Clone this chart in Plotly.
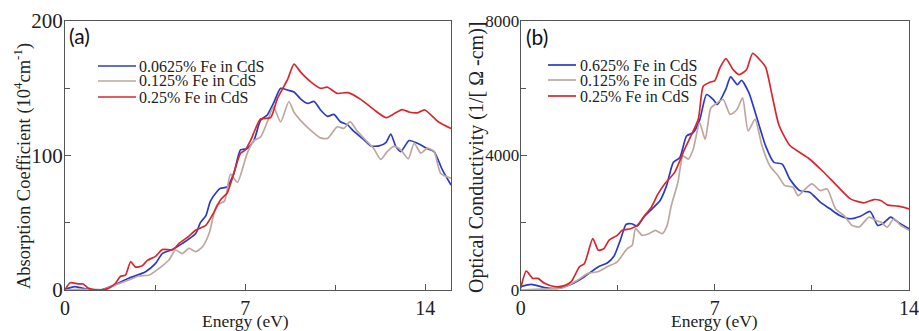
import plotly.graph_objects as go

W, H = 919, 331

# ---------------- data : panel (a) absorption coefficient ----------------
names_a = ["0.0625% Fe in CdS", "0.125% Fe in CdS", "0.25% Fe in CdS"]

a_blue_x = [0.0, 0.38, 0.9, 1.4, 1.83, 2.48, 3.13, 3.52, 3.78, 4.17, 4.56, 5.08, 5.26, 5.47, 5.65, 5.9, 6.04, 6.3,
            6.56, 6.82, 7.08, 7.34, 7.6, 7.86, 8.1, 8.38, 8.64, 8.9, 9.15, 9.42, 9.68, 9.93, 10.2, 10.45, 10.7,
            10.97, 11.23, 11.62, 11.88, 12.2, 12.47, 12.66, 12.86, 13.05, 13.37, 13.7, 14.08, 14.34, 14.67, 15.0]
a_blue_y = [0.5, 2.5, 0.5, 0, 3, 8.7, 13.6, 19.8, 27, 30, 34.6, 42, 50, 55, 66, 73, 75.5, 76.5,
            86.6, 104, 105, 111, 126, 130, 138.6, 149.8, 148.5, 147, 142, 138.6, 140, 133.7, 129, 130.4, 125,
            122.8, 117.8, 111.5, 107, 107, 109.5, 115.8, 106.5, 102.8, 111, 109, 105, 102.8, 89, 78]

a_gray_x = [0.0, 0.5, 1.0, 1.5, 1.96, 2.48, 2.87, 3.26, 3.65, 4.04, 4.3, 4.56, 4.82, 5.08, 5.34, 5.6, 5.9, 6.2,
            6.43, 6.7, 7.08, 7.34, 7.6, 7.86, 8.1, 8.38, 8.7, 8.9, 9.15, 9.55, 9.93, 10.2, 10.58, 10.84, 11.08,
            11.36, 11.75, 12.0, 12.27, 12.53, 12.79, 13.05, 13.34, 13.57, 13.83, 14.08, 14.34, 14.6, 15.0]
a_gray_y = [0, 0.5, 0.5, 0.5, 3.7, 7.4, 10.4, 11, 16, 22.3, 29.7, 27, 31, 28.5, 32, 42, 63, 66,
            86, 80, 101.5, 111, 113.6, 124.8, 136, 124.8, 140, 132, 126, 118.6, 113, 112.6, 121.2, 120, 125,
            117.8, 110, 105, 97, 103, 106.6, 104, 97.5, 109, 101.6, 105.4, 103, 86.6, 83]

a_red_x = [0.0, 0.2, 0.5, 0.7, 0.92, 1.3, 1.69, 1.96, 2.15, 2.35, 2.55, 2.74, 3.0, 3.2, 3.52, 3.78, 4.2, 4.43,
           4.82, 5.08, 5.47, 5.73, 6.04, 6.3, 6.56, 6.82, 7.0, 7.21, 7.6, 7.99, 8.25, 8.64, 8.9, 9.15, 9.55,
           9.93, 10.2, 10.58, 11.0, 11.49, 12.0, 12.47, 12.8, 13.1, 13.4, 13.7, 13.98, 14.5, 15.0]
a_red_y = [0, 5.4, 4.5, 4.5, 1.2, 0, 1.2, 5, 10, 11, 21, 17, 18, 22, 25, 30, 30, 34.6,
           40, 44.5, 48, 55.7, 66.8, 72, 86.6, 101.5, 104, 111, 127, 128, 142, 156, 167.8, 162, 154.6,
           149.8, 150.6, 146, 146.6, 141.6, 134, 128, 131, 134, 132, 131.6, 133.7, 125, 120]

# ---------------- data : panel (b) optical conductivity ----------------
names_b = ["0.625% Fe in CdS", "0.125% Fe in CdS", "0.25% Fe in CdS"]

b_blue_x = [0.0, 0.38, 0.86, 1.34, 1.82, 2.3, 2.8, 3.12, 3.36, 3.6, 3.8, 4.0, 4.2, 4.44, 4.68, 4.92, 5.02, 5.26,
            5.5, 5.74, 5.98, 6.22, 6.46, 6.7, 6.94, 7.09, 7.39, 7.57, 7.81, 7.96, 8.23, 8.53, 8.83, 9.13, 9.43,
            9.7, 10.06, 10.42, 10.8, 11.15, 11.5, 11.89, 12.25, 12.6, 12.87, 13.05, 13.34, 13.6, 14.0]
b_blue_y = [100, 170, 70, 50, 170, 395, 690, 800, 1000, 1500, 1950, 1968, 1900, 2165, 2362, 2558, 2650, 3100,
            3790, 3938, 4577, 4675, 5069, 5807, 5660, 5511, 5955, 6329, 6100, 6230, 5857, 5069, 4282, 3790, 3740,
            3297, 2952, 2904, 2609, 2412, 2214, 2116, 2190, 2333, 1920, 1968, 2166, 2017, 1821]

b_gray_x = [0.0, 0.5, 1.0, 1.5, 2.06, 2.42, 2.78, 3.12, 3.48, 3.84, 4.02, 4.14, 4.38, 4.62, 4.86, 5.1, 5.28, 5.43,
            5.67, 5.85, 6.04, 6.22, 6.45, 6.65, 6.85, 7.0, 7.3, 7.55, 7.8, 8.0, 8.2, 8.45, 8.7, 8.98, 9.28, 9.52,
            9.82, 10.0, 10.2, 10.5, 10.8, 11.05, 11.35, 11.65, 11.95, 12.2, 12.56, 12.8, 12.98, 13.22, 13.46,
            13.7, 14.0]
b_gray_y = [0, 20, 30, 60, 296, 493, 542, 690, 838, 1230, 1328, 1821, 1624, 1673, 1772, 1673, 1920, 2510,
            3200, 3985, 3887, 4183, 4970, 4478, 5400, 5511, 5659, 5216, 5364, 5709, 4724, 5069, 4282, 3690, 3395, 3100,
            3052, 2805, 2952, 3150, 2952, 3002, 2412, 2214, 1920, 1870, 2166, 2067, 2017, 1870, 2116,
            1920, 1771]

b_red_x = [0.0, 0.2, 0.44, 0.62, 0.86, 1.22, 1.58, 1.82, 2.12, 2.3, 2.6, 2.8, 3.0, 3.18, 3.48, 3.66, 3.96, 4.2,
           4.47, 4.71, 4.95, 5.19, 5.55, 5.91, 6.4, 6.58, 6.82, 7.0, 7.18, 7.4, 7.66, 7.88, 8.14, 8.36, 8.62,
           8.83, 9.07, 9.31, 9.7, 10.06, 10.4, 10.9, 11.4, 11.89, 12.37, 12.73, 12.98, 13.22, 13.6, 14.0]
b_red_y = [50, 561, 345, 345, 198, 100, 130, 248, 690, 790, 1526, 1181, 1230, 1476, 1624, 1772, 1820, 1920,
           2214, 2460, 2854, 3150, 3495, 4183, 5069, 6052, 6170, 6220, 6595, 6875, 6545, 6397, 6545, 7027, 6840,
           6620, 5757, 4900, 4300, 4085, 3900, 3520, 3100, 2707, 2589, 2687, 2657, 2530, 2490, 2412]

colors = ["#2b3cc4", "#bda79f", "#d9272e"]

fig = go.Figure()
for nm, xs, ys, c in zip(names_a, [a_blue_x, a_gray_x, a_red_x], [a_blue_y, a_gray_y, a_red_y], colors):
    fig.add_trace(go.Scatter(x=xs, y=ys, name=nm, mode="lines", xaxis="x", yaxis="y",
                             line=dict(color=c, width=1.7, shape="spline", smoothing=0.6), showlegend=False))
for nm, xs, ys, c in zip(names_b, [b_blue_x, b_gray_x, b_red_x], [b_blue_y, b_gray_y, b_red_y], colors):
    fig.add_trace(go.Scatter(x=xs, y=ys, name=nm, mode="lines", xaxis="x2", yaxis="y2",
                             line=dict(color=c, width=1.7, shape="spline", smoothing=0.6), showlegend=False))

serif = "Liberation Serif"
axcol = "#555555"
ydom = [(H - 290) / H, (H - 20.7) / H]

def xax(dom, rng):
    return dict(domain=dom, range=rng, tick0=0, dtick=7, ticks="inside", ticklen=6, tickcolor=axcol,
                showline=True, linecolor=axcol, linewidth=1.2, mirror=True, showgrid=False, zeroline=False,
                automargin=False, ticklabeloverflow="allow",
                tickfont=dict(family=serif, size=20, color="#222"), ticklabelstandoff=0,
                minor=dict(dtick=3.5, ticks="inside", ticklen=5, tickcolor=axcol))

def yax(dom, rng, dt, anchor, fs):
    return dict(domain=dom, range=rng, tick0=0, dtick=dt, ticks="inside", ticklen=6, tickcolor=axcol,
                showline=True, linecolor=axcol, linewidth=1.2, mirror=True, showgrid=False, zeroline=False,
                automargin=False, ticklabeloverflow="allow", ticklabelstandoff=-3,
                anchor=anchor, tickfont=dict(family=serif, size=fs, color="#222"),
                minor=dict(dtick=dt / 2, ticks="inside", ticklen=5, tickcolor=axcol))

fig.update_layout(
    width=W, height=H, margin=dict(l=0, r=0, t=0, b=0, autoexpand=False),
    template="none",
    paper_bgcolor="white", plot_bgcolor="white",
    xaxis=dict(xax([65 / W, 451 / W], [0, 15]), anchor="y"),
    yaxis=yax(ydom, [0, 200], 100, "x", 21),
    xaxis2=dict(xax([520.7 / W, 909 / W], [0, 14]), anchor="y2"),
    yaxis2=yax(ydom, [0, 8000], 4000, "x2", 17),
)

ann = []
shapes = []
# axis titles
for xc in (245, 714):
    ann.append(dict(text="Energy (eV)", x=xc / W, y=(H - 320.5) / H, xref="paper", yref="paper",
                    showarrow=False, font=dict(family=serif, size=17.5, color="#222"),
                    xanchor="center", yanchor="middle"))
ann.append(dict(text="Absorption Coefficient (10<sup>4</sup>cm<sup>-1</sup>)", x=22 / W, y=(H - 166) / H,
                xref="paper", yref="paper", showarrow=False, textangle=-90,
                font=dict(family=serif, size=18.5, color="#222"), xanchor="center", yanchor="middle"))
ann.append(dict(text="Optical Conductivity (1/[ Ω -cm)]", x=476 / W, y=(H - 158) / H,
                xref="paper", yref="paper", showarrow=False, textangle=-90,
                font=dict(family=serif, size=20, color="#222"), xanchor="center", yanchor="middle"))
# panel labels
ann.append(dict(text="(a)", x=67 / W, y=(H - 36) / H, xref="paper", yref="paper", showarrow=False,
                font=dict(family="Lato", size=21, color="#111"), xanchor="left", yanchor="middle"))
ann.append(dict(text="(b)", x=524 / W, y=(H - 37) / H, xref="paper", yref="paper", showarrow=False,
                font=dict(family="Lato", size=21, color="#111"), xanchor="left", yanchor="middle"))

# legends (key line + label)
leg_a_y = [66, 81, 97]
leg_b_y = [65, 80, 96]
for nm, c, yy in zip(names_a, colors, leg_a_y):
    shapes.append(dict(type="line", xref="paper", yref="paper", x0=98 / W, x1=136 / W, y0=(H - yy) / H,
                       y1=(H - yy) / H, line=dict(color=c, width=1.7)))
    ann.append(dict(text=nm, x=137 / W, y=(H - yy) / H, xref="paper", yref="paper", showarrow=False,
                    font=dict(family=serif, size=16, color="#222"), xanchor="left", yanchor="middle"))
for nm, c, yy in zip(names_b, colors, leg_b_y):
    shapes.append(dict(type="line", xref="paper", yref="paper", x0=548 / W, x1=576 / W, y0=(H - yy) / H,
                       y1=(H - yy) / H, line=dict(color=c, width=1.7)))
    ann.append(dict(text=nm, x=578 / W, y=(H - yy) / H, xref="paper", yref="paper", showarrow=False,
                    font=dict(family=serif, size=16, color="#222"), xanchor="left", yanchor="middle"))

fig.update_layout(annotations=ann, shapes=shapes)
fig.write_html("out.html")
